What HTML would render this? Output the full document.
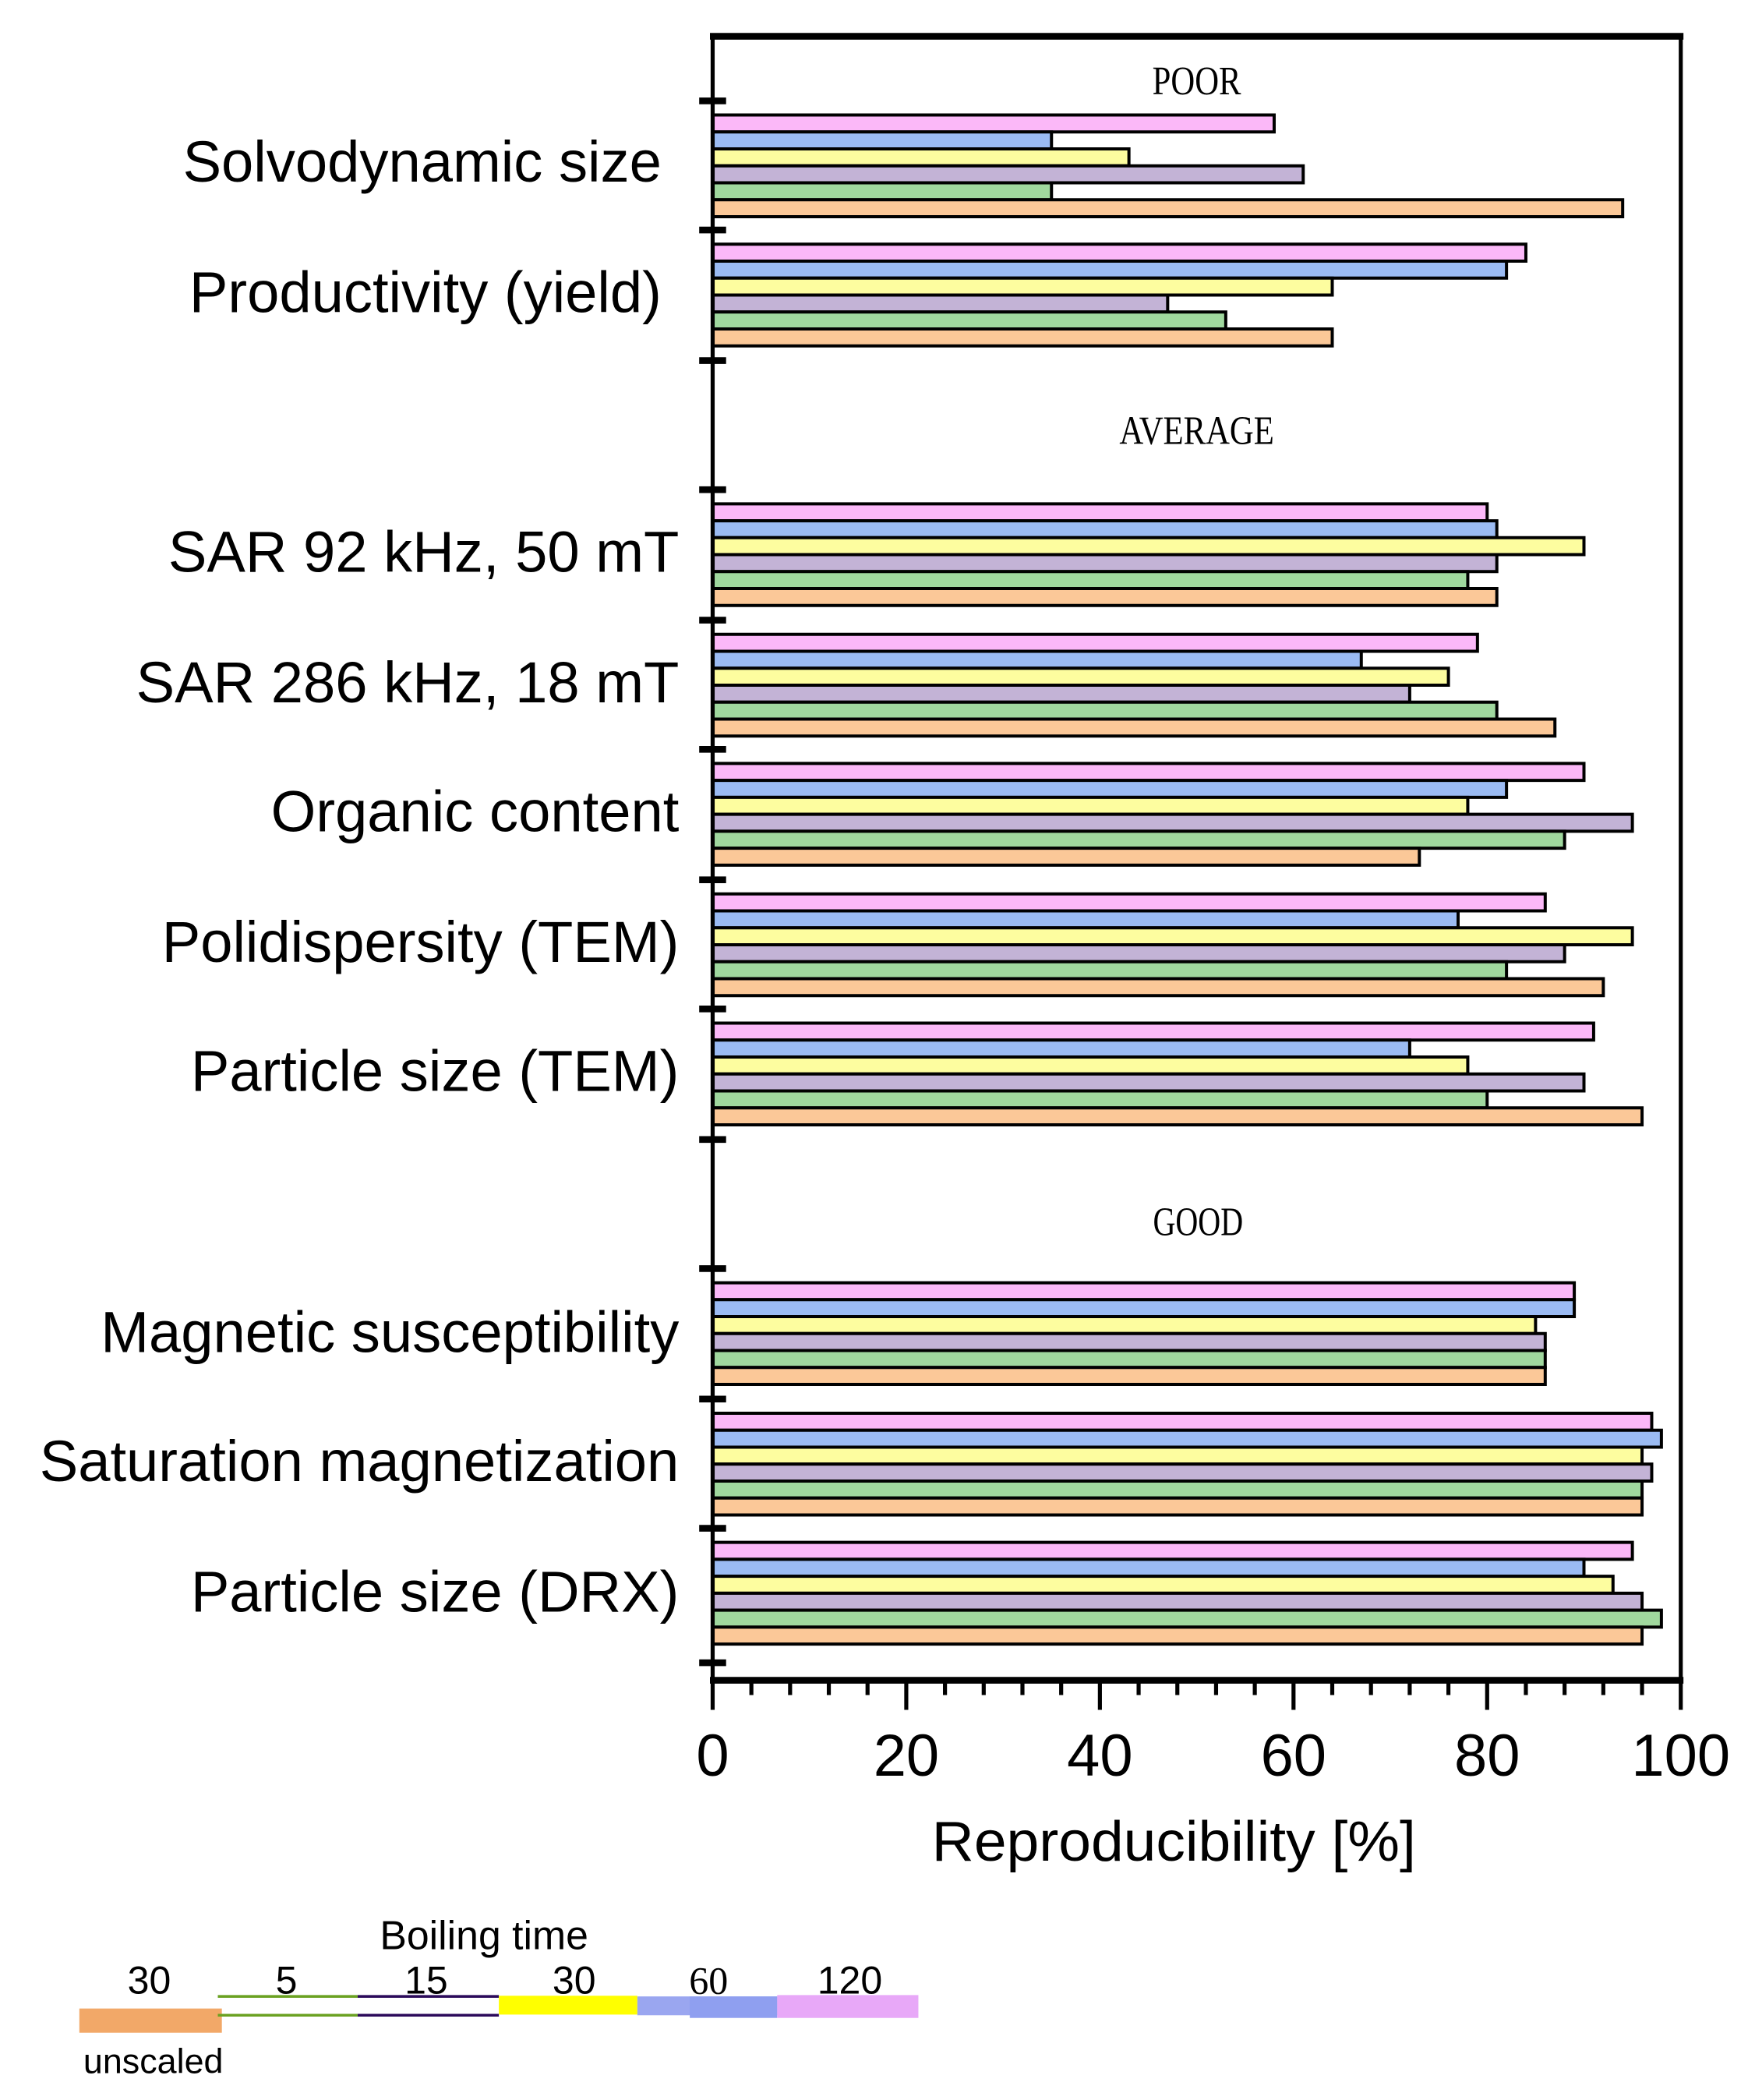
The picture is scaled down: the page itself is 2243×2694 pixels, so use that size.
<!DOCTYPE html>
<html><head><meta charset="utf-8"><style>html,body{margin:0;padding:0;background:#fff}svg{display:block}</style></head>
<body>
<svg xmlns="http://www.w3.org/2000/svg" width="2243" height="2694" viewBox="0 0 1300 1561" preserveAspectRatio="none">
<rect width="1300" height="1561" fill="#fff"/>
<g font-family="Liberation Serif, serif" font-size="30" text-anchor="middle">
<text x="890" y="70" textLength="66" lengthAdjust="spacingAndGlyphs">POOR</text>
<text x="890" y="330" textLength="115" lengthAdjust="spacingAndGlyphs">AVERAGE</text>
<text x="891" y="918" textLength="67" lengthAdjust="spacingAndGlyphs">GOOD</text>
</g>
<g stroke="#000" stroke-width="4">
<g transform="translate(530,85.5) scale(7.2,1)">
<rect y="0" width="58" height="12.6" fill="#fbb8f8" vector-effect="non-scaling-stroke"/>
<rect y="12.6" width="35" height="12.6" fill="#9bbbf3" vector-effect="non-scaling-stroke"/>
<rect y="25.2" width="43" height="12.6" fill="#fdfd9f" vector-effect="non-scaling-stroke"/>
<rect y="37.8" width="61" height="12.6" fill="#c3b3d6" vector-effect="non-scaling-stroke"/>
<rect y="50.4" width="35" height="12.6" fill="#a0d89e" vector-effect="non-scaling-stroke"/>
<rect y="63" width="94" height="12.6" fill="#fbc898" vector-effect="non-scaling-stroke"/>
</g>
<g transform="translate(530,181.5) scale(7.2,1)">
<rect y="0" width="84" height="12.6" fill="#fbb8f8" vector-effect="non-scaling-stroke"/>
<rect y="12.6" width="82" height="12.6" fill="#9bbbf3" vector-effect="non-scaling-stroke"/>
<rect y="25.2" width="64" height="12.6" fill="#fdfd9f" vector-effect="non-scaling-stroke"/>
<rect y="37.8" width="47" height="12.6" fill="#c3b3d6" vector-effect="non-scaling-stroke"/>
<rect y="50.4" width="53" height="12.6" fill="#a0d89e" vector-effect="non-scaling-stroke"/>
<rect y="63" width="64" height="12.6" fill="#fbc898" vector-effect="non-scaling-stroke"/>
</g>
<g transform="translate(530,374.5) scale(7.2,1)">
<rect y="0" width="80" height="12.6" fill="#fbb8f8" vector-effect="non-scaling-stroke"/>
<rect y="12.6" width="81" height="12.6" fill="#9bbbf3" vector-effect="non-scaling-stroke"/>
<rect y="25.2" width="90" height="12.6" fill="#fdfd9f" vector-effect="non-scaling-stroke"/>
<rect y="37.8" width="81" height="12.6" fill="#c3b3d6" vector-effect="non-scaling-stroke"/>
<rect y="50.4" width="78" height="12.6" fill="#a0d89e" vector-effect="non-scaling-stroke"/>
<rect y="63" width="81" height="12.6" fill="#fbc898" vector-effect="non-scaling-stroke"/>
</g>
<g transform="translate(530,471.5) scale(7.2,1)">
<rect y="0" width="79" height="12.6" fill="#fbb8f8" vector-effect="non-scaling-stroke"/>
<rect y="12.6" width="67" height="12.6" fill="#9bbbf3" vector-effect="non-scaling-stroke"/>
<rect y="25.2" width="76" height="12.6" fill="#fdfd9f" vector-effect="non-scaling-stroke"/>
<rect y="37.8" width="72" height="12.6" fill="#c3b3d6" vector-effect="non-scaling-stroke"/>
<rect y="50.4" width="81" height="12.6" fill="#a0d89e" vector-effect="non-scaling-stroke"/>
<rect y="63" width="87" height="12.6" fill="#fbc898" vector-effect="non-scaling-stroke"/>
</g>
<g transform="translate(530,567.5) scale(7.2,1)">
<rect y="0" width="90" height="12.6" fill="#fbb8f8" vector-effect="non-scaling-stroke"/>
<rect y="12.6" width="82" height="12.6" fill="#9bbbf3" vector-effect="non-scaling-stroke"/>
<rect y="25.2" width="78" height="12.6" fill="#fdfd9f" vector-effect="non-scaling-stroke"/>
<rect y="37.8" width="95" height="12.6" fill="#c3b3d6" vector-effect="non-scaling-stroke"/>
<rect y="50.4" width="88" height="12.6" fill="#a0d89e" vector-effect="non-scaling-stroke"/>
<rect y="63" width="73" height="12.6" fill="#fbc898" vector-effect="non-scaling-stroke"/>
</g>
<g transform="translate(530,664.5) scale(7.2,1)">
<rect y="0" width="86" height="12.6" fill="#fbb8f8" vector-effect="non-scaling-stroke"/>
<rect y="12.6" width="77" height="12.6" fill="#9bbbf3" vector-effect="non-scaling-stroke"/>
<rect y="25.2" width="95" height="12.6" fill="#fdfd9f" vector-effect="non-scaling-stroke"/>
<rect y="37.8" width="88" height="12.6" fill="#c3b3d6" vector-effect="non-scaling-stroke"/>
<rect y="50.4" width="82" height="12.6" fill="#a0d89e" vector-effect="non-scaling-stroke"/>
<rect y="63" width="92" height="12.6" fill="#fbc898" vector-effect="non-scaling-stroke"/>
</g>
<g transform="translate(530,760.5) scale(7.2,1)">
<rect y="0" width="91" height="12.6" fill="#fbb8f8" vector-effect="non-scaling-stroke"/>
<rect y="12.6" width="72" height="12.6" fill="#9bbbf3" vector-effect="non-scaling-stroke"/>
<rect y="25.2" width="78" height="12.6" fill="#fdfd9f" vector-effect="non-scaling-stroke"/>
<rect y="37.8" width="90" height="12.6" fill="#c3b3d6" vector-effect="non-scaling-stroke"/>
<rect y="50.4" width="80" height="12.6" fill="#a0d89e" vector-effect="non-scaling-stroke"/>
<rect y="63" width="96" height="12.6" fill="#fbc898" vector-effect="non-scaling-stroke"/>
</g>
<g transform="translate(530,953.5) scale(7.2,1)">
<rect y="0" width="89" height="12.6" fill="#fbb8f8" vector-effect="non-scaling-stroke"/>
<rect y="12.6" width="89" height="12.6" fill="#9bbbf3" vector-effect="non-scaling-stroke"/>
<rect y="25.2" width="85" height="12.6" fill="#fdfd9f" vector-effect="non-scaling-stroke"/>
<rect y="37.8" width="86" height="12.6" fill="#c3b3d6" vector-effect="non-scaling-stroke"/>
<rect y="50.4" width="86" height="12.6" fill="#a0d89e" vector-effect="non-scaling-stroke"/>
<rect y="63" width="86" height="12.6" fill="#fbc898" vector-effect="non-scaling-stroke"/>
</g>
<g transform="translate(530,1050.5) scale(7.2,1)">
<rect y="0" width="97" height="12.6" fill="#fbb8f8" vector-effect="non-scaling-stroke"/>
<rect y="12.6" width="98" height="12.6" fill="#9bbbf3" vector-effect="non-scaling-stroke"/>
<rect y="25.2" width="96" height="12.6" fill="#fdfd9f" vector-effect="non-scaling-stroke"/>
<rect y="37.8" width="97" height="12.6" fill="#c3b3d6" vector-effect="non-scaling-stroke"/>
<rect y="50.4" width="96" height="12.6" fill="#a0d89e" vector-effect="non-scaling-stroke"/>
<rect y="63" width="96" height="12.6" fill="#fbc898" vector-effect="non-scaling-stroke"/>
</g>
<g transform="translate(530,1146.5) scale(7.2,1)">
<rect y="0" width="95" height="12.6" fill="#fbb8f8" vector-effect="non-scaling-stroke"/>
<rect y="12.6" width="90" height="12.6" fill="#9bbbf3" vector-effect="non-scaling-stroke"/>
<rect y="25.2" width="93" height="12.6" fill="#fdfd9f" vector-effect="non-scaling-stroke"/>
<rect y="37.8" width="96" height="12.6" fill="#c3b3d6" vector-effect="non-scaling-stroke"/>
<rect y="50.4" width="98" height="12.6" fill="#a0d89e" vector-effect="non-scaling-stroke"/>
<rect y="63" width="96" height="12.6" fill="#fbc898" vector-effect="non-scaling-stroke"/>
</g>
</g>
<g fill="none" stroke="#000">
<path d="M530 27 V1250" stroke-width="3"/>
<path d="M1250 27 V1250" stroke-width="3"/>
<path d="M528 27 H1252" stroke-width="5"/>
<path d="M528 1249 H1252" stroke-width="5"/>
</g>
<g stroke="#000" stroke-width="5">
<path d="M520 75H540M520 171H540M520 268H540M520 364H540M520 461H540M520 557H540M520 654H540M520 750H540M520 847H540M520 943H540M520 1040H540M520 1136H540M520 1236H540"/>
</g>
<g stroke="#000" stroke-width="3">
<path d="M530 1250V1271M674 1250V1271M818 1250V1271M962 1250V1271M1106 1250V1271M1250 1250V1271"/>
<path d="M558.8 1250V1260M587.6 1250V1260M616.4 1250V1260M645.2 1250V1260M702.8 1250V1260M731.6 1250V1260M760.4 1250V1260M789.2 1250V1260M846.8 1250V1260M875.6 1250V1260M904.4 1250V1260M933.2 1250V1260M990.8 1250V1260M1019.6 1250V1260M1048.4 1250V1260M1077.2 1250V1260M1134.8 1250V1260M1163.6 1250V1260M1192.4 1250V1260M1221.2 1250V1260"/>
</g>
<g font-family="Liberation Sans, Arial, sans-serif" font-size="44" text-anchor="middle">
<text x="530" y="1320">0</text><text x="674" y="1320">20</text><text x="818" y="1320">40</text><text x="962" y="1320">60</text><text x="1106" y="1320">80</text><text x="1250" y="1320">100</text>
<text x="873" y="1383" font-size="42" textLength="360" lengthAdjust="spacingAndGlyphs">Reproducibility [%]</text>
</g>
<g font-family="Liberation Sans, Arial, sans-serif" font-size="43" text-anchor="end">
<text x="492" y="135">Solvodynamic size</text>
<text x="492" y="232">Productivity (yield)</text>
<text x="505" y="425">SAR 92 kHz, 50 mT</text>
<text x="505" y="522">SAR 286 kHz, 18 mT</text>
<text x="505" y="618">Organic content</text>
<text x="505" y="715">Polidispersity (TEM)</text>
<text x="505" y="811">Particle size (TEM)</text>
<text x="505" y="1005">Magnetic susceptibility</text>
<text x="505" y="1101">Saturation magnetization</text>
<text x="505" y="1198">Particle size (DRX)</text>
</g>
<g font-family="Liberation Sans, Arial, sans-serif" text-anchor="middle">
<text x="360" y="1449" font-size="30">Boiling time</text>
<g font-size="29">
<text x="111" y="1482">30</text><text x="213" y="1482">5</text><text x="317" y="1482">15</text><text x="427" y="1482">30</text><text x="527" y="1482" font-family="Liberation Serif, serif">60</text><text x="632" y="1482">120</text>
</g>
<text x="114" y="1541" font-size="26">unscaled</text>
</g>
<rect x="59" y="1493" width="106" height="18" fill="#f2a868"/>
<path d="M162 1484H266M162 1498H266" stroke="#6aa121" stroke-width="2"/>
<path d="M266 1484H371M266 1498H371" stroke="#2b0a5a" stroke-width="2"/>
<rect x="371" y="1483.5" width="103" height="14" fill="#ffff00"/>
<rect x="474" y="1484" width="104" height="14" fill="#9aa6f0"/>
<rect x="513" y="1484" width="65" height="16" fill="#8f9ff0"/>
<rect x="578" y="1483" width="105" height="17" fill="#e8a8f8"/>
</svg>
</body></html>
